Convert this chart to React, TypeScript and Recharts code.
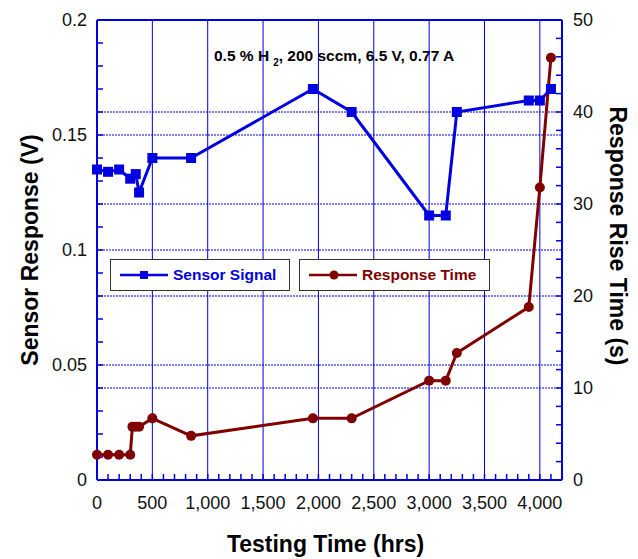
import React from 'react';
import {
  ComposedChart,
  Line,
  XAxis,
  YAxis,
  ReferenceLine,
  Legend,
  Label,
  Customized,
} from 'recharts';

// Sensor signal (left axis, V)
const sensorHours = [0, 100, 200, 300, 350, 380, 500, 850, 1950, 2300, 3000, 3150, 3250, 3900, 4000, 4100];
const sensorSignal = [0.135, 0.134, 0.135, 0.131, 0.133, 0.125, 0.14, 0.14, 0.17, 0.16, 0.115, 0.115, 0.16, 0.165, 0.165, 0.17];

// Response rise time (right axis, s)
const responseHours = [0, 100, 200, 300, 320, 350, 380, 500, 850, 1950, 2300, 3000, 3150, 3250, 3900, 4000, 4100];
const responseTime = [2.75, 2.75, 2.75, 2.75, 5.8, 5.8, 5.8, 6.7, 4.8, 6.7, 6.7, 10.8, 10.8, 13.8, 18.8, 31.8, 45.9];

const hourMajor = [0, 500, 1000, 1500, 2000, 2500, 3000, 3500, 4000];
const voltMajor = [0, 0.05, 0.1, 0.15, 0.2];
const secMajor = [0, 10, 20, 30, 40, 50];

const hourMinor = Array.from({ length: 42 }, (_, i) => i * 100);
const voltMinor = Array.from({ length: 21 }, (_, i) => i / 100);
const secMinor = Array.from({ length: 26 }, (_, i) => i * 2);

const BLUE = '#0000e0';
const RED = '#800000';
const FONT = 'Arial, "Liberation Sans", sans-serif';

const sensorData = sensorHours.map((h, i) => ({ x: h, y: sensorSignal[i] }));
const responseData = responseHours.map((h, i) => ({ x: h, y: responseTime[i] }));

const isMajor = (list: number[], v: number) => list.some((m) => Math.abs(m - v) < 1e-9);

function SquareDot(p: any) {
  if (p.cx == null || p.cy == null) return <g key={p.index} />;
  return <rect key={p.index} x={p.cx - 5} y={p.cy - 5} width={10} height={10} fill={BLUE} />;
}

function RoundDot(p: any) {
  if (p.cx == null || p.cy == null) return <g key={p.index} />;
  return <circle key={p.index} cx={p.cx} cy={p.cy} r={5} fill={RED} />;
}

function Annotation() {
  return (
    <text x={214} y={61} fontFamily={FONT} fontWeight="bold" fontSize={15.5} fill="#000">
      0.5 % H
      <tspan dx={4} dy={5} fontSize={10}>2</tspan>
      <tspan dy={-5}>, 200 sccm, 6.5 V, 0.77 A</tspan>
    </text>
  );
}

function LegendBoxes() {
  const box: React.CSSProperties = {
    boxSizing: 'border-box',
    height: 32,
    border: '1.5px solid #333',
    background: '#fff',
    display: 'flex',
    alignItems: 'center',
    fontFamily: FONT,
    fontWeight: 'bold',
    fontSize: 15.5,
    whiteSpace: 'nowrap',
  };
  return (
    <div style={{ display: 'flex', gap: 9 }}>
      <div style={{ ...box, width: 180, paddingLeft: 9, color: BLUE }}>
        <svg width={48} height={12} style={{ marginRight: 5 }}>
          <line x1={0} y1={6} x2={48} y2={6} stroke={BLUE} strokeWidth={2.5} />
          <rect x={20} y={2} width={8} height={8} fill={BLUE} />
        </svg>
        Sensor Signal
      </div>
      <div style={{ ...box, width: 191, paddingLeft: 9, color: RED }}>
        <svg width={48} height={12} style={{ marginRight: 5 }}>
          <line x1={0} y1={6} x2={48} y2={6} stroke={RED} strokeWidth={2.5} />
          <circle cx={25} cy={6} r={4.5} fill={RED} />
        </svg>
        Response Time
      </div>
    </div>
  );
}

export default function App() {
  const tickStyle = { fill: '#111', fontSize: 18, fontFamily: FONT };
  return (
    <div style={{ position: 'absolute', left: 0, top: 0 }}>
      <ComposedChart
        width={638}
        height={559}
        margin={{ top: 0, right: 0, bottom: 0, left: 0 }}
        style={{ fontFamily: FONT }}
      >
        <XAxis
          xAxisId="bottom"
          type="number"
          dataKey="x"
          domain={[0, 4200]}
          ticks={hourMinor}
          interval={0}
          height={79}
          tickSize={-6}
          tickMargin={22}
          tick={tickStyle}
          tickFormatter={(v: number) => (isMajor(hourMajor, v) ? v.toLocaleString('en-US') : '')}
          axisLine={{ stroke: BLUE, strokeWidth: 2 }}
          tickLine={{ stroke: BLUE, strokeWidth: 1.5 }}
        >
          <Label
            content={({ viewBox }: any) => (
              <text
                x={viewBox.x + viewBox.width / 2 - 4}
                y={viewBox.y + viewBox.height - 7}
                textAnchor="middle"
                fontFamily={FONT}
                fontWeight="bold"
                fontSize={23}
                fill="#000"
              >
                Testing Time (hrs)
              </text>
            )}
          />
        </XAxis>
        <XAxis
          xAxisId="top"
          orientation="top"
          type="number"
          dataKey="x"
          domain={[0, 4200]}
          ticks={hourMinor}
          interval={0}
          height={20}
          tickSize={-6}
          tickFormatter={() => ''}
          axisLine={{ stroke: BLUE, strokeWidth: 2 }}
          tickLine={{ stroke: BLUE, strokeWidth: 1.5 }}
        />
        <YAxis
          yAxisId="left"
          type="number"
          domain={[0, 0.2]}
          ticks={voltMinor}
          interval={0}
          width={97}
          tickSize={-6}
          tickMargin={16}
          tick={tickStyle}
          tickFormatter={(v: number) => (isMajor(voltMajor, v) ? String(v) : '')}
          axisLine={{ stroke: BLUE, strokeWidth: 2 }}
          tickLine={{ stroke: BLUE, strokeWidth: 1.5 }}
        >
          <Label
            content={({ viewBox }: any) => {
              const cx = 38;
              const cy = viewBox.y + viewBox.height / 2;
              return (
                <text
                  x={cx}
                  y={cy}
                  transform={`rotate(-90, ${cx}, ${cy})`}
                  textAnchor="middle"
                  fontFamily={FONT}
                  fontWeight="bold"
                  fontSize={23}
                  fill="#000"
                >
                  Sensor Response (V)
                </text>
              );
            }}
          />
        </YAxis>
        <YAxis
          yAxisId="right"
          orientation="right"
          type="number"
          domain={[0, 50]}
          ticks={secMinor}
          interval={0}
          width={76}
          tickSize={-6}
          tickMargin={17}
          tick={tickStyle}
          tickFormatter={(v: number) => (isMajor(secMajor, v) ? String(v) : '')}
          axisLine={{ stroke: BLUE, strokeWidth: 2 }}
          tickLine={{ stroke: BLUE, strokeWidth: 1.5 }}
        >
          <Label
            content={({ viewBox }: any) => {
              const cx = viewBox.x + 48;
              const cy = viewBox.y + viewBox.height / 2 - 14;
              return (
                <text
                  x={cx}
                  y={cy}
                  transform={`rotate(90, ${cx}, ${cy})`}
                  textAnchor="middle"
                  fontFamily={FONT}
                  fontWeight="bold"
                  fontSize={23}
                  fill="#000"
                >
                  Response Rise Time (s)
                </text>
              );
            }}
          />
        </YAxis>

        {hourMajor.slice(1).map((h) => (
          <ReferenceLine key={`vx${h}`} x={h} xAxisId="bottom" yAxisId="left" stroke={BLUE} strokeWidth={1} />
        ))}
        {voltMajor.slice(1, -1).map((v) => (
          <ReferenceLine key={`hl${v}`} y={v} xAxisId="bottom" yAxisId="left" stroke={BLUE} strokeWidth={1} strokeDasharray="2 1" />
        ))}
        {secMajor.slice(1, -1).map((v) => (
          <ReferenceLine key={`hr${v}`} y={v} xAxisId="bottom" yAxisId="right" stroke={BLUE} strokeWidth={1} strokeDasharray="2 1" />
        ))}

        <Line
          data={sensorData}
          xAxisId="bottom"
          yAxisId="left"
          dataKey="y"
          name="Sensor Signal"
          type="linear"
          stroke={BLUE}
          strokeWidth={3}
          dot={SquareDot}
          activeDot={false}
          isAnimationActive={false}
        />
        <Line
          data={responseData}
          xAxisId="bottom"
          yAxisId="right"
          dataKey="y"
          name="Response Time"
          type="linear"
          stroke={RED}
          strokeWidth={3}
          dot={RoundDot}
          activeDot={false}
          isAnimationActive={false}
        />

        <Legend
          layout="horizontal"
          verticalAlign="middle"
          align="center"
          content={() => <LegendBoxes />}
          wrapperStyle={{ position: 'absolute', left: 110, top: 259, width: 'auto' }}
        />
        <Customized component={<Annotation />} />
      </ComposedChart>
    </div>
  );
}
